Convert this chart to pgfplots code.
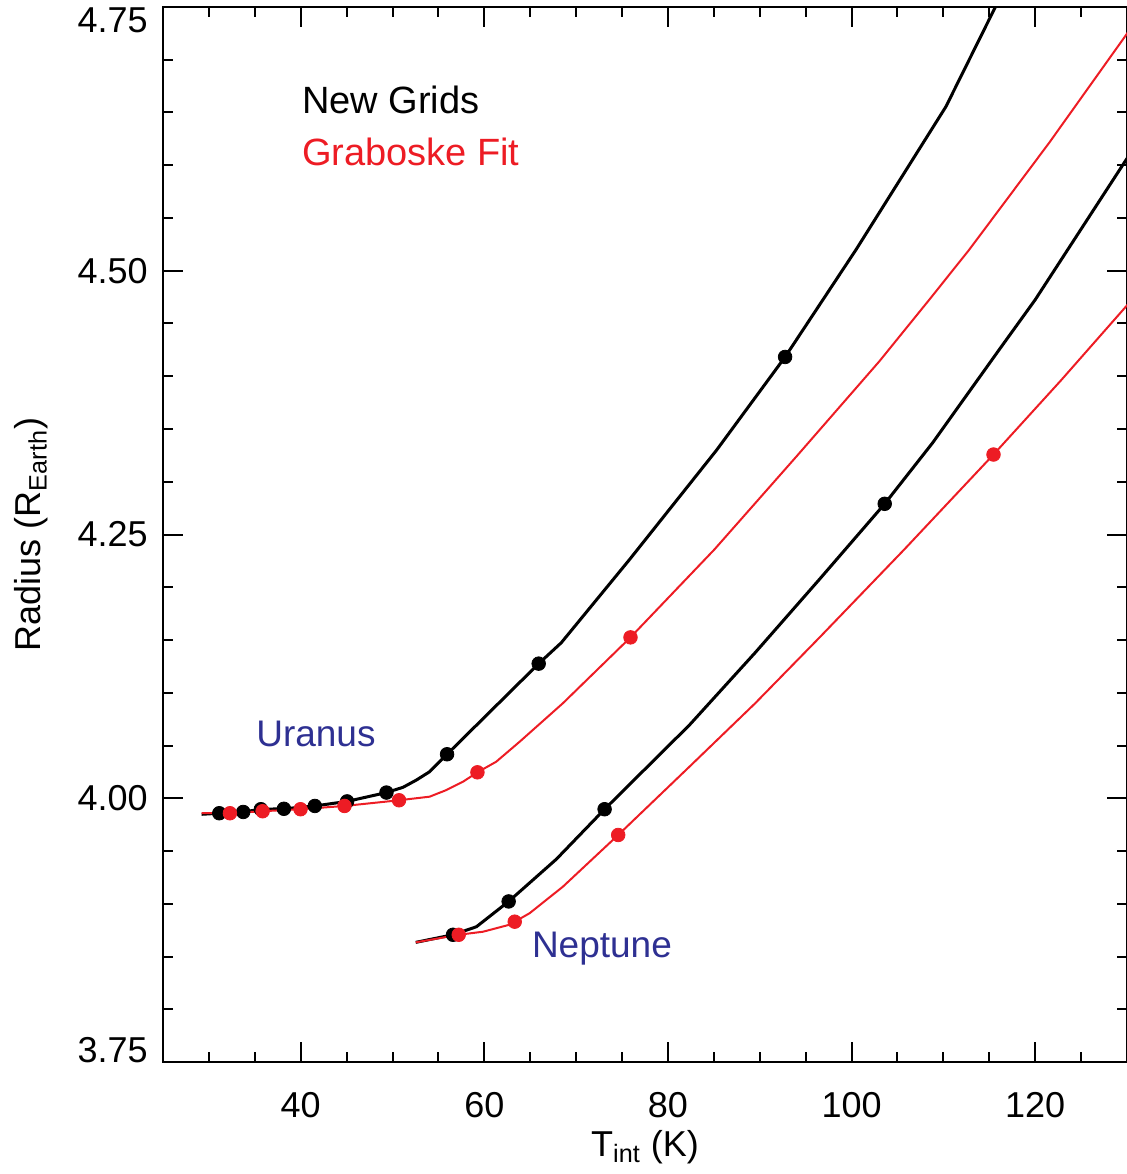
\documentclass[border=0pt]{standalone}
\usepackage{fontspec}
\setmainfont{Liberation Sans}
\usepackage{pgfplots}
\pgfplotsset{compat=1.18}

\definecolor{fitred}{RGB}{237,28,36}
\definecolor{planetblue}{RGB}{46,48,146}

\begin{document}
\begin{tikzpicture}
\begin{axis}[
  scale only axis, width=482pt, height=527.5pt,
  xmin=25, xmax=130, ymin=3.75, ymax=4.75,
  xtick={40,60,80,100,120}, xticklabels={40,60,80,100,120},
  minor xtick={25,30,35,45,50,55,65,70,75,85,90,95,105,110,115,125,130},
  ytick={3.75,4.0,4.25,4.5,4.75},
  yticklabels={{\smash{\raisebox{6pt}{3.75}}\vphantom{3.75}},4.00,4.25,4.50,{\smash{\raisebox{-6.5pt}{4.75}}\vphantom{4.75}}},
  minor ytick={3.8,3.85,3.9,3.95,4.05,4.1,4.15,4.2,4.3,4.35,4.4,4.45,4.55,4.6,4.65,4.7},
  /pgf/number format/assume math mode=true,
  font=\fontsize{18}{21}\selectfont,
  tick align=inside,
  major tick length=10pt, minor tick length=5pt,
  every tick/.style={black, line width=1pt},
  axis line style={line width=1.2pt},
  xticklabel style={anchor=north, inner sep=0pt, yshift=-15pt},
  yticklabel style={anchor=east, inner sep=0pt, xshift=-7.5pt},
  xlabel={T\textsubscript{int} (K)},
  ylabel={Radius (R\textsubscript{Earth})},
  xlabel style={at={(axis description cs:0.5,0)}, anchor=north, inner sep=0pt, yshift=-34pt},
  ylabel style={at={([xshift=-66pt]axis description cs:0,0.5)}, anchor=center, rotate=0, inner sep=0pt},
]
% Uranus, new grids
\addplot[black, line width=1.5pt] coordinates {
  (29.21,3.9848) (31.13,3.9858) (33.74,3.9870) (35.66,3.9896) (38.17,3.9900)
  (41.54,3.9927) (45.05,3.9970) (49.34,4.0054) (51.15,4.0104) (52.61,4.0173)
  (54.05,4.0252) (55.94,4.0417) (65.92,4.1276) (68.38,4.1474)
  (75.82,4.2263) (85.30,4.3300) (92.76,4.4183) (100.48,4.5199) (110.28,4.6556)
  (115.72,4.7510) (117.0,4.7735)};
\addplot[only marks, mark=*, mark size=3.4pt, black] coordinates {
  (31.13,3.9858) (33.74,3.9870) (35.66,3.9896) (38.17,3.9900) (41.54,3.9927)
  (45.05,3.9970) (49.34,4.0054) (55.94,4.0417) (65.92,4.1276) (92.76,4.4183)};
% Neptune, new grids
\addplot[black, line width=1.5pt] coordinates {
  (52.53,3.8634) (56.59,3.8706) (59.14,3.8782) (62.65,3.9022) (67.84,3.9422)
  (73.10,3.9896) (82.34,4.0694) (89.50,4.1380) (96.49,4.2074)
  (103.61,4.2791) (108.82,4.3368) (116.08,4.4252) (120.0,4.4725) (129.9,4.6051)
  (130.5,4.6130)};
\addplot[only marks, mark=*, mark size=3.4pt, black] coordinates {
  (56.59,3.8706) (62.65,3.9022) (73.10,3.9896) (103.61,4.2791)};
% Uranus, Graboske fit
\addplot[fitred, line width=1pt] coordinates {
  (29.21,3.9858) (32.29,3.9858) (35.85,3.9877) (39.98,3.9896) (44.77,3.9927)
  (50.71,3.9981) (54.05,4.0015) (55.87,4.0078) (57.68,4.0157) (59.25,4.0246)
  (61.29,4.0346) (63.85,4.0536) (68.55,4.0900) (75.92,4.1525) (85.06,4.2358)
  (94.00,4.3240) (103.02,4.4141) (108.46,4.4725) (112.81,4.5199) (121.5,4.6210)
  (129.9,4.7235) (130.5,4.7310)};
\addplot[only marks, mark=*, mark size=3.4pt, fitred] coordinates {
  (32.29,3.9858) (35.85,3.9877) (39.98,3.9896) (44.77,3.9927) (50.71,3.9981)
  (59.25,4.0246) (75.92,4.1525)};
% Neptune, Graboske fit
\addplot[fitred, line width=1pt] coordinates {
  (52.53,3.8634) (57.21,3.8706) (59.86,3.8735) (62.65,3.8799) (63.31,3.8830)
  (64.93,3.8910) (68.56,3.9162) (74.58,3.9652) (82.34,4.0299) (89.50,4.0900)
  (96.49,4.1522) (105.74,4.2358) (115.46,4.3258) (122.8,4.3960) (129.9,4.4662)
  (130.5,4.4720)};
\addplot[only marks, mark=*, mark size=3.4pt, fitred] coordinates {
  (57.21,3.8706) (63.31,3.8830) (74.58,3.9652) (115.46,4.3258)};

\node[anchor=base west, inner sep=0pt, font=\fontsize{19}{22}\selectfont] at (axis cs:40.1,4.6495) {New Grids};
\node[anchor=base west, inner sep=0pt, text=fitred, font=\fontsize{19}{22}\selectfont] at (axis cs:40.1,4.5993) {Graboske Fit};
\node[anchor=base west, inner sep=0pt, text=planetblue, font=\fontsize{18.5}{21}\selectfont] at (axis cs:35.12,4.0486) {Uranus};
\node[anchor=base west, inner sep=0pt, text=planetblue, font=\fontsize{18.5}{21}\selectfont] at (axis cs:65.15,3.8486) {Neptune};
\end{axis}
\pgfresetboundingbox
\path[use as bounding box] ([xshift=-81.5pt,yshift=-56pt]current axis.south west) rectangle ([yshift=3.5pt]current axis.north east);
\end{tikzpicture}
\end{document}
